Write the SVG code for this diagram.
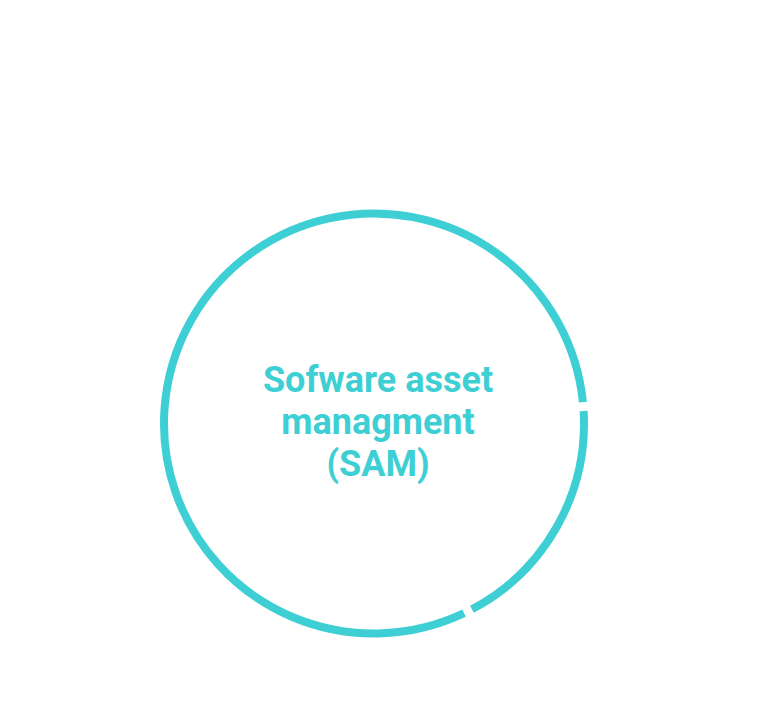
<svg xmlns="http://www.w3.org/2000/svg" width="772" height="717" viewBox="0 0 772 717">
<style>
.ring{fill:none;stroke:#3ECFD5;stroke-width:8}
.lbl{font-family:Roboto,"Liberation Sans",sans-serif;font-weight:bold;font-size:36px;fill:#3ECFD5;text-anchor:middle}
</style>
<rect width="772" height="717" fill="#ffffff"/>
<g id="connectors"></g>
<g id="sam">
<path class="ring" d="M583.62,410.90 A210,210 0 0 1 471.95,609.26"/>
<path class="ring" d="M464.08,613.20 A210,210 0 1 1 582.91,402.13"/>
<text class="lbl" x="378" y="392">Sofware asset</text>
<text class="lbl" x="378" y="434">managment</text>
<text class="lbl" x="378" y="476">(SAM)</text>
</g>
</svg>
